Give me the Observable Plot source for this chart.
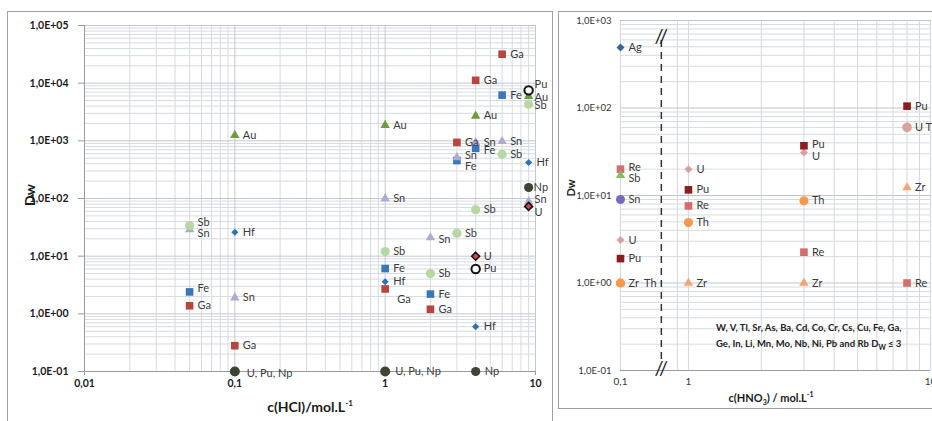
<!DOCTYPE html>
<html><head><meta charset="utf-8">
<script src="https://cdn.jsdelivr.net/npm/d3@7"></script>
<script src="https://cdn.jsdelivr.net/npm/@observablehq/plot@0.6"></script>
<style>
body{margin:0;background:#fff;font-family:Lato,"Open Sans",sans-serif;}
#wrap{position:relative;width:932px;height:421px;overflow:hidden;background:#fff}
.abs{position:absolute;white-space:nowrap;color:#1a1a1a}
.lp g[aria-label="y-axis tick label"] text,.lp g[aria-label="x-axis tick label"] text{font-weight:bold}
</style></head><body><div id="wrap"></div>
<script>
// ---------- DATA: HCl panel (x = c(HCl) mol/L, y = Dw) ----------
const hclFe = [[0.05,2.4],[1,6.1],[2,2.2],[3,455],[4,740],[6,6200]];
const hclGa = [[0.05,1.38],[0.1,0.28],[1,2.7],[2,1.2],[3,940],[4,11200],[6,31800]];
const hclAu = [[0.1,1250],[1,1870],[4,2700],[9,5900]];
const hclSn = [[0.05,29],[0.1,1.9],[1,100],[2,21],[3,515],[4,940],[6,980],[9,89]];
const hclSb = [[0.05,34],[1,12],[2,5],[3,25],[4,64],[6,585],[9,4300]];
const hclHf = [[0.1,26],[1,3.6],[4,0.6],[9,420]];
const hclNp = [[4,0.1],[9,155]];
const hclPu = [[4,6],[9,7500]];
const hclU  = [[4,10],[9,73]];
const hclUPuNp = [[0.1,0.1],[1,0.1]];
const hclXTicks = [0.01,0.1,1,10];
const hclYTicks = [0.1,1,10,100,1000,10000,100000];

// ---------- DATA: HNO3 panel ----------
const hnoAg = [[0.1,490]];
const hnoRe = [[0.1,20],[1,7.6],[3,2.25],[8,1]];
const hnoSb = [[0.1,17]];
const hnoSn = [[0.1,9]];
const hnoU  = [[0.1,3.1],[1,20],[3,31]];
const hnoPu = [[0.1,1.9],[1,11.6],[3,37],[8,105]];
const hnoZr = [[0.1,1],[1,1],[3,1],[8,12.3]];
const hnoTh = [[0.1,1],[1,4.9],[3,8.7]];
const hnoUTh = [[8,60]];
const hnoXTicks = [0.1,1,10];
const hnoYTicks = [0.1,1,10,100,1000];

// ---------- series tables ----------
const hcl = [
  {name:"Fe", pts:hclFe}, {name:"Ga", pts:hclGa}, {name:"Au", pts:hclAu},
  {name:"Sn", pts:hclSn}, {name:"Sb", pts:hclSb}, {name:"Hf", pts:hclHf},
  {name:"Np", pts:hclNp}, {name:"Pu", pts:hclPu}, {name:"U", pts:hclU},
  {name:"U, Pu, Np", pts:hclUPuNp}
];
const hno = [
  {name:"Ag", pts:hnoAg}, {name:"Re", pts:hnoRe}, {name:"Sb", pts:hnoSb},
  {name:"Sn", pts:hnoSn}, {name:"U", pts:hnoU}, {name:"Pu", pts:hnoPu},
  {name:"Zr", pts:hnoZr}, {name:"Th", pts:hnoTh}, {name:"U Th", pts:hnoUTh}
];

// ---------- styles ----------
const hclStyle = {
  "Fe": {symbol:"square", fill:"#3a77b9", r:4.3},
  "Ga": {symbol:"square", fill:"#b8453d", r:4.3},
  "Au": {symbol:"triangle", fill:"#6f9b41", r:3.5},
  "Sn": {symbol:"triangle", fill:"#aeabd3", r:3.5},
  "Sb": {symbol:"circle", fill:"#b7d7a3", r:4.6},
  "Hf": {symbol:"diamond2", fill:"#3170b7", r:3.2},
  "Np": {symbol:"circle", fill:"#3c4434", r:4.6},
  "Pu": {symbol:"circle", fill:"#fff", stroke:"#111", strokeWidth:2, r:4.2},
  "U":  {symbol:"diamond2", fill:"#d24747", stroke:"#111", strokeWidth:1.5, r:3.6},
  "U, Pu, Np": {symbol:"circle", fill:"#3c4434", r:5}
};
const hnoStyle = {
  "Ag": {symbol:"diamond2", fill:"#3563a9", r:3.6},
  "Re": {symbol:"square", fill:"#d46e6c", r:4.3},
  "Sb": {symbol:"triangle", fill:"#86bd62", r:3.5},
  "Sn": {symbol:"circle", fill:"#7a69b8", r:4.5},
  "U":  {symbol:"diamond2", fill:"#d9a0a0", r:3.6},
  "Pu": {symbol:"square", fill:"#8c1c1e", r:4.3},
  "Zr": {symbol:"triangle", fill:"#f2a676", r:3.5},
  "Th": {symbol:"circle", fill:"#f59a4c", r:4.6},
  "U Th": {symbol:"circle", fill:"#d8a39d", r:4.8}
};
// label placement tweaks (pixel offsets), keyed by "series@x"
const hclLabelOffsets = {
  "Sb@0.05":{dy:-3}, "Sn@0.05":{dy:4}, "Fe@0.05":{dy:-3},
  "Ga@1":{dx:12, dy:11}, "U, Pu, Np@0.1":{dx:12, dy:2}, "U, Pu, Np@1":{dx:10},
  "Sn@3":{dy:-2}, "Fe@3":{dy:6}, "Fe@4":{dy:2}, "Sn@2":{dy:2},
  "Pu@9":{dx:6, dy:-6}, "Au@9":{dx:6, dy:1}, "Sb@9":{dx:6, dy:1},
  "Np@9":{dx:5}, "Sn@9":{dx:6, dy:-2}, "U@9":{dx:6, dy:6}, "Np@4":{dx:9}
};
const hnoLabelOffsets = {
  "Re@0.1":{dy:-2}, "Sb@0.1":{dy:3}, "Zr@0.1":{text:"Zr  Th"}, "Th@0.1":{hide:true},
  "Pu@3":{dy:-1}, "U@3":{dy:4}
};

const fmtE = v => { const e = Math.round(Math.log10(v)); return "1,0E" + (e < 0 ? "-" : "+") + String(Math.abs(e)).padStart(2, "0"); };
const fmtX = v => String(v).replace(".", ",");
const isMajor = v => Math.abs(Math.log10(v) - Math.round(Math.log10(v))) < 1e-9;

function dotMarks(series, styles) {
  return series.map(s => Plot.dot(s.pts, {x: d => d[0], y: d => d[1], ...styles[s.name]}));
}
function labelMarks(series, offsets, def) {
  const out = [];
  for (const s of series) for (const p of s.pts) {
    const o = offsets[s.name + "@" + p[0]] || {};
    if (o.hide) continue;
    out.push(Plot.text([p], {x: d => d[0], y: d => d[1], text: () => o.text ?? s.name,
      dx: o.dx ?? def.dx, dy: o.dy ?? 0, textAnchor: "start", fill: "#3a3a3a", fontSize: def.fontSize}));
  }
  return out;
}

const wrap = document.getElementById("wrap");

// ---------- Left panel: HCl ----------
const gxL = d3.scaleLog().domain([0.01, 10]).ticks();
const gyL = d3.scaleLog().domain([0.1, 100000]).ticks();
const left = Plot.plot({
  width: 550, height: 421,
  marginLeft: 84, marginRight: 15, marginTop: 25, marginBottom: 50,
  className: "lp",
  style: {fontFamily: "Lato, 'Open Sans', sans-serif", fontSize: "11px", background: "transparent", color: "#1a1a1a"},
  x: {type: "log", domain: [0.01, 10], axis: null},
  y: {type: "log", domain: [0.1, 100000], axis: null},
  marks: [
    Plot.ruleX(gxL.filter(v => !isMajor(v)), {stroke: "#d6dbe1"}),
    Plot.ruleY(gyL.filter(v => !isMajor(v)), {stroke: "#d6dbe1"}),
    Plot.ruleX(gxL.filter(isMajor), {stroke: "#c2c8cf"}),
    Plot.ruleY(gyL.filter(isMajor), {stroke: "#c2c8cf"}),
    Plot.ruleX([0.01], {stroke: "#9a9a9a"}),
    Plot.ruleY([0.1], {stroke: "#9a9a9a"}),
    Plot.axisY({ticks: hclYTicks, tickFormat: fmtE, tickSize: 6, tickPadding: 10, stroke: "#9a9a9a", fill: "#1a1a1a", fontWeight: "bold", fontSize: 10.5, label: null}),
    Plot.axisX({ticks: hclXTicks, tickFormat: fmtX, tickSize: 4, tickPadding: 4, stroke: "#9a9a9a", fill: "#1a1a1a", fontWeight: "bold", fontSize: 10.5, label: null}),
    ...dotMarks(hcl, hclStyle),
    ...labelMarks(hcl, hclLabelOffsets, {dx: 8, fontSize: 11})
  ]
});
left.style.position = "absolute"; left.style.left = "0px"; left.style.top = "0px";
wrap.appendChild(left);

// ---------- Right panel: HNO3 (broken log axis) ----------
const XB = Math.pow(10, -0.112);      // axis break position
const K = 0.19;                        // compression of the section before the break
const brk = v => { const l = Math.log10(v); return l >= Math.log10(XB) ? l : Math.log10(XB) + (l - Math.log10(XB)) * K; };
const gxR = [0.1, ...d3.scaleLog().domain([0.9, 10]).ticks()];
const gyR = d3.scaleLog().domain([0.1, 1000]).ticks();
const right = Plot.plot({
  width: 374, height: 421,
  marginLeft: 62, marginRight: 2, marginTop: 20, marginBottom: 51,
  style: {fontFamily: "Lato, 'Open Sans', sans-serif", fontSize: "10px", background: "transparent", color: "#333"},
  x: {type: "linear", transform: brk, domain: [brk(0.1), brk(10)], axis: null},
  y: {type: "log", domain: [0.1, 1000], axis: null},
  marks: [
    Plot.ruleX(gxR, {stroke: "#d3d8de"}),
    Plot.ruleY(gyR.filter(v => !isMajor(v)), {stroke: "#d6dbe1"}),
    Plot.ruleY(gyR.filter(isMajor), {stroke: "#bfc5cc"}),
    Plot.ruleY([0.1], {stroke: "#9a9a9a"}),
    Plot.axisY({ticks: hnoYTicks, tickFormat: fmtE, tickSize: 0, tickPadding: 9, fill: "#333", fontSize: 9.5, label: null}),
    Plot.text(hnoXTicks, {x: d => d, frameAnchor: "bottom", text: fmtX, dy: 14, fill: "#333", fontSize: 10}),
    Plot.ruleX([XB], {stroke: "#333", strokeWidth: 1.5, strokeDasharray: "7,5", insetTop: 20, insetBottom: 10}),
    Plot.text([XB], {x: d => d, frameAnchor: "top", text: () => "//", fontSize: 20, dy: 8, fill: "#222"}),
    Plot.text([XB], {x: d => d, frameAnchor: "bottom", text: () => "//", fontSize: 20, dy: 4, fill: "#222"}),
    ...dotMarks(hno, hnoStyle),
    ...labelMarks(hno, hnoLabelOffsets, {dx: 8, fontSize: 11})
  ]
});
right.style.position = "absolute"; right.style.left = "558px"; right.style.top = "0px";
wrap.appendChild(right);

// ---------- frames, titles, annotation ----------
function addDiv(html, css) { const d = document.createElement("div"); d.className = "abs"; d.innerHTML = html; Object.assign(d.style, css); wrap.appendChild(d); return d; }
addDiv("", {left: "7px", top: "11px", width: "544px", height: "430px", borderLeft: "1.5px solid #a0a0a0", borderTop: "1.5px solid #a0a0a0", borderRight: "1.5px solid #a0a0a0", pointerEvents: "none"});
addDiv("", {left: "558px", top: "11px", width: "400px", height: "396px", borderLeft: "1.5px solid #a0a0a0", borderTop: "1.5px solid #a0a0a0", borderBottom: "1.5px solid #a0a0a0", pointerEvents: "none"});
addDiv("Dw", {left: "29px", top: "195px", transform: "translate(-50%,-50%) rotate(-90deg)", fontWeight: "bold", fontSize: "14px"});
addDiv("c(HCl)/mol.L<sup style='font-size:8px'>-1</sup>", {left: "310px", top: "406px", transform: "translate(-50%,-50%)", fontWeight: "bold", fontSize: "14px"});
addDiv("Dw", {left: "570px", top: "188px", transform: "translate(-50%,-50%) rotate(-90deg)", fontWeight: "bold", fontSize: "11px"});
addDiv("c(HNO<sub style='font-size:7px'>3</sub>) / mol.L<sup style='font-size:7px'>-1</sup>", {left: "771px", top: "398px", transform: "translate(-50%,-50%)", fontWeight: "bold", fontSize: "11px"});
addDiv("W, V, Tl, Sr, As, Ba, Cd, Co, Cr, Cs, Cu, Fe, Ga,<br>Ge, In, Li, Mn, Mo, Nb, Ni, Pb and Rb D<sub style='font-size:7px'>W</sub> ≤ 3",
  {left: "716px", top: "320px", fontWeight: "bold", fontSize: "9.5px", lineHeight: "16px", color: "#222"});
</script>
</body></html>
